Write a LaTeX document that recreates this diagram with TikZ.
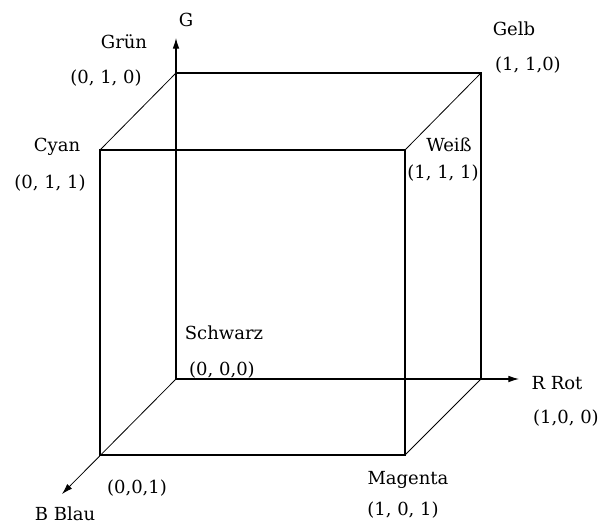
\documentclass[tikz,border=0pt]{standalone}
\usepackage{fontspec}
\setmainfont{DejaVu Serif}
\usetikzlibrary{arrows.meta}
\begin{document}
\begin{tikzpicture}[x=0.75pt,y=-0.75pt,
  edge/.style={line width=0.8pt,black},
  diag/.style={line width=0.6pt,black},
  axis/.style={line width=0.8pt,black,-{Latex[length=8pt,width=5pt]}},
  lbl/.style={font=\fontsize{13.5}{15}\selectfont,inner sep=0pt,anchor=center}]
\useasboundingbox (0,0) rectangle (606,526);
% corners
\coordinate (K) at (176,379);
\coordinate (Gr) at (176,73);
\coordinate (Ge) at (481,73);
\coordinate (R) at (481,379);
\coordinate (C) at (100,150);
\coordinate (W) at (405,150);
\coordinate (M) at (405,455);
\coordinate (B) at (100,455);
\coordinate (Gtip) at (176,38);
\coordinate (Rtip) at (519,379);
\coordinate (Btip) at (62,494);
% axes
\draw[axis] (K) -- (Gtip);
\draw[axis] (K) -- (Rtip);
\draw[axis,line width=0.6pt] (K) -- (Btip);
% cube
\draw[edge] (C) rectangle (M);
\draw[edge] (Gr) -- (Ge) -- (R);
\draw[diag] (C) -- (Gr);
\draw[diag] (W) -- (Ge);
\draw[diag] (M) -- (R);
% labels
\node[lbl] (lG) at (186,20) {G};
\node[lbl] (lGrun) at (124,42) {Grün};
\node[lbl] (lGrunc) at (106,78) {(0, 1, 0)};
\node[lbl] (lCyan) at (57,147) {Cyan};
\node[lbl] (lCyanc) at (50,183) {(0, 1, 1)};
\node[lbl] (lGelb) at (514,29) {Gelb};
\node[lbl] (lGelbc) at (528,65) {(1, 1,0)};
\node[lbl] (lWeiss) at (449,145) {Weiß};
\node[lbl] (lWeissc) at (443,173) {(1, 1, 1)};
\node[lbl] (lSchwarz) at (224,333) {Schwarz};
\node[lbl] (lSchwarzc) at (222,370) {(0, 0,0)};
\node[lbl] (lBc) at (137,488) {(0,0,1)};
\node[lbl] (lBlau) at (65,514) {B Blau};
\node[lbl] (lRot) at (557,383) {R Rot};
\node[lbl] (lRotc) at (566,418) {(1,0, 0)};
\node[lbl] (lMag) at (408,480) {Magenta};
\node[lbl] (lMagc) at (403,510) {(1, 0, 1)};
\end{tikzpicture}
\end{document}
